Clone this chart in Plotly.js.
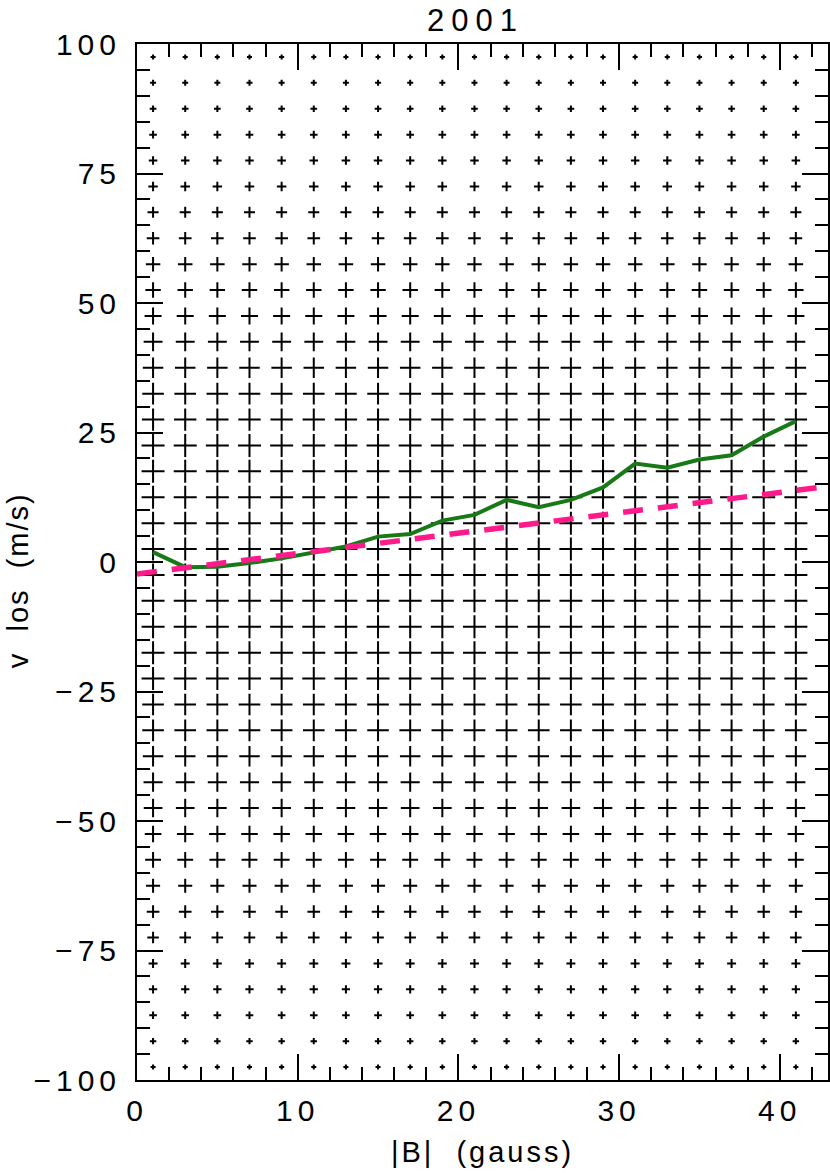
<!DOCTYPE html>
<html><head><meta charset="utf-8">
<script src="https://cdn.plot.ly/plotly-3.0.1.min.js"></script>
<style>
html,body{margin:0;padding:0;background:#fff;}
#chart{width:830px;height:1173px;}
.xtick text,.ytick text{letter-spacing:5px;}
.gtitle{letter-spacing:7px;}
.xtitle{letter-spacing:3px;}
.annotation-text{letter-spacing:2px;}
</style></head><body><div id="chart"></div>
<script>
// column centres of |B| bins (gauss)
const binCenters = [1,3,5,7,9,11,13,15,17,19,21,23,25,27,29,31,33,35,37,39,41];
// row centres of v_los bins (m/s)
const rowCenters = [97.5,92.5,87.5,82.5,77.5,72.5,67.5,62.5,57.5,52.5,47.5,42.5,37.5,32.5,27.5,22.5,17.5,12.5,7.5,2.5,
  -2.5,-7.5,-12.5,-17.5,-22.5,-27.5,-32.5,-37.5,-42.5,-47.5,-52.5,-57.5,-62.5,-67.5,-72.5,-77.5,-82.5,-87.5,-92.5,-97.5];
// relative density of each row (percent of maximum)
const rowDensity = [22,26,29,33,37,41,48,55,63,67,74,82,89,94,97,100,100,100,100,100,
  100,100,100,100,100,94,94,89,83,81,72,69,61,55,50,39,36,33,28,22];
// mean v_los per |B| bin
const meanB = [1,3,5,7,9,11,13,15,17,19,21,23,25,27,29,31,33,35,37,39,41];
const meanV = [1.9,-1.0,-0.9,-0.2,0.7,1.8,3.0,4.9,5.4,8.0,9.1,12.0,10.6,12.0,14.4,19.0,18.2,19.8,20.6,24.2,27.2];
// linear fit
const fitB = [0,43];
const fitV = [-2.3,14.6];

const maxCrossPx = 23;
const gx=[],gy=[],gs=[];
rowCenters.forEach((y,i)=>{
  binCenters.forEach(x=>{
    gx.push(x); gy.push(y);
    gs.push(maxCrossPx*rowDensity[i]/100/1.4);
  });
});

const FONT = 'Liberation Sans, Arial, Helvetica, sans-serif';
const traces = [
  {type:'scatter',mode:'markers',x:gx,y:gy,hoverinfo:'skip',
   marker:{symbol:'cross-thin',size:gs,opacity:1,color:'#000',line:{color:'#000',width:2}},showlegend:false},
  {type:'scatter',mode:'lines',x:meanB,y:meanV,line:{color:'#177a17',width:4},showlegend:false},
  {type:'scatter',mode:'lines',x:fitB,y:fitV,line:{color:'#ff1a8c',width:5.5,dash:'20px,15px'},showlegend:false}
];
const axisCommon = {showline:true,mirror:'ticks',linecolor:'#000',linewidth:2,ticks:'inside',
  tickwidth:2,tickcolor:'#000',ticklen:26,showgrid:false,zeroline:false,
  tickfont:{family:FONT,size:30,color:'#000'}};
const layout = {
  width:830,height:1173,
  margin:{l:137,r:2,t:44,b:93},
  paper_bgcolor:'#fff',plot_bgcolor:'#fff',
  title:{text:'2001',font:{family:FONT,size:31,color:'#000'},x:0.49,xref:'paper',y:0.983,yref:'container',yanchor:'middle'},
  xaxis:Object.assign({},axisCommon,{range:[0,43],dtick:10,tick0:0,ticklabelstandoff:3,
    minor:{dtick:2,tick0:0,ticklen:13,tickwidth:2,tickcolor:'#000',ticks:'inside'},
    title:{text:'|B|\u00A0\u00A0(gauss)',font:{family:FONT,size:29,color:'#000'},standoff:16}}),
  yaxis:Object.assign({},axisCommon,{range:[-100,100],dtick:25,tick0:0,ticklabelstandoff:8,
    minor:{dtick:5,tick0:0,ticklen:13,tickwidth:2,tickcolor:'#000',ticks:'inside'}}),
  annotations:[{text:'v\u00A0\u00A0los\u00A0\u00A0(m/s)',textangle:-90,xref:'paper',yref:'paper',
    x:-0.172,y:0.4826,xanchor:'center',yanchor:'middle',showarrow:false,
    font:{family:FONT,size:29,color:'#000'}}]
};
Plotly.newPlot('chart',traces,layout,{displayModeBar:false,staticPlot:true});
</script></body></html>
